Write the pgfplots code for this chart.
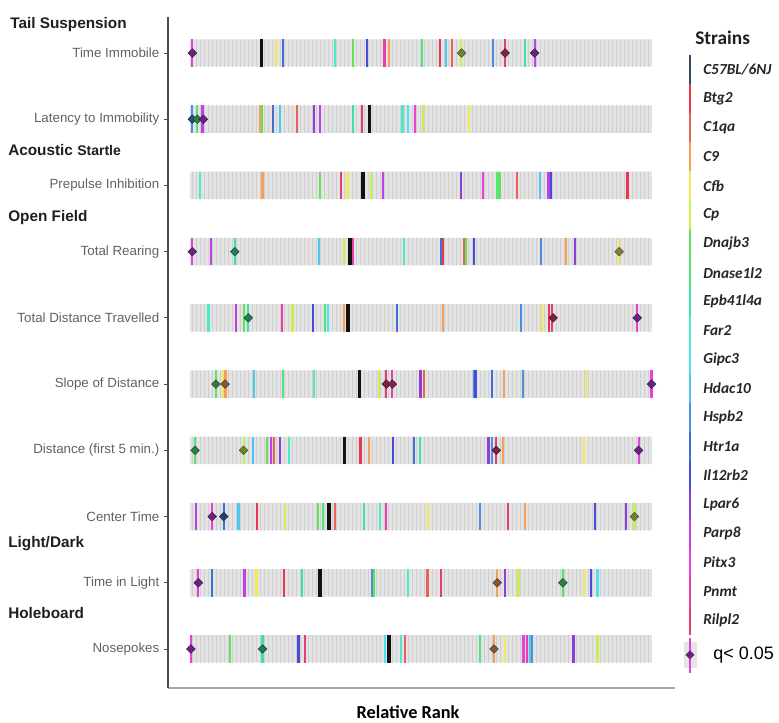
\documentclass[border=0pt]{standalone}
\usepackage{fontspec}
\setmainfont{Liberation Sans}
\newfontfamily\carlito{Carlito}
\usepackage{pgfplots}
\usepackage{pgfplotstable}
\pgfplotsset{compat=1.18}
\usetikzlibrary{patterns}

\definecolor{cC57}{HTML}{111111}
\definecolor{cC57leg}{HTML}{34495E}
\definecolor{cBtg2}{HTML}{E8384F}
\definecolor{cC1qa}{HTML}{E8645A}
\definecolor{cC9}{HTML}{F5A05A}
\definecolor{cCfb}{HTML}{F2E85A}
\definecolor{cCp}{HTML}{C8F050}
\definecolor{cDnajb3}{HTML}{66E05A}
\definecolor{cDnase1l2}{HTML}{4CE67A}
\definecolor{cEpb41l4a}{HTML}{40E0A0}
\definecolor{cFar2}{HTML}{50E8C8}
\definecolor{cGipc3}{HTML}{50E0F0}
\definecolor{cHdac10}{HTML}{4CC8F0}
\definecolor{cHspb2}{HTML}{4A90E2}
\definecolor{cHtr1a}{HTML}{3F6FD8}
\definecolor{cIl12rb2}{HTML}{4A4AD8}
\definecolor{cLpar6}{HTML}{8A40D8}
\definecolor{cParp8}{HTML}{C040E8}
\definecolor{cPitx3}{HTML}{E840D8}
\definecolor{cPnmt}{HTML}{E840A8}
\definecolor{cRilpl2}{HTML}{E04070}

% relative rank (0-100) of each strain in each test; y = row (10 = top)
\pgfplotstableread{
x y s
0.5 10 Pitx3
15.5 10 C57
18.6 10 Cfb
20.1 10 Htr1a
31.3 10 Far2
35.2 10 Dnajb3
38.4 10 Il12rb2
42.1 10 Pnmt
43.1 10 C9
50.3 10 Dnase1l2
54.2 10 Btg2
55.5 10 Hdac10
56.8 10 C1qa
58.7 10 Cp
65.6 10 Hspb2
68.2 10 Rilpl2
72.6 10 Epb41l4a
74.6 10 Parp8
0.5 9 Hspb2
1.6 9 Dnase1l2
2.7 9 Parp8
15.2 9 C9
15.6 9 Dnajb3
17.9 9 Htr1a
19.5 9 Hdac10
23.2 9 C1qa
26.9 9 Lpar6
28.1 9 Parp8
35.2 9 Epb41l4a
37.2 9 Rilpl2
38.8 9 C57
46.0 9 Far2
47.1 9 Gipc3
48.7 9 Pitx3
50.5 9 Cp
60.3 9 Cfb
2.2 8 Far2
15.7 8 C9
28.2 8 Dnajb3
32.6 8 Rilpl2
34.1 8 Cfb
37.4 8 C57
39.2 8 Cp
41.7 8 Parp8
58.7 8 Lpar6
63.5 8 Pitx3
66.5 8 Dnase1l2
67.0 8 Dnajb3
70.8 8 C1qa
75.7 8 Hdac10
77.6 8 Parp8
78.2 8 Il12rb2
94.7 8 Btg2
0.5 7 Pitx3
4.5 7 Parp8
9.7 7 Epb41l4a
28.0 7 Hdac10
33.4 7 Cp
34.6 7 C57
35.2 7 Pnmt
46.4 7 Far2
54.3 7 Htr1a
54.7 7 Btg2
59.3 7 C1qa
59.7 7 Dnajb3
61.4 7 Il12rb2
75.9 7 Hspb2
81.4 7 C9
83.3 7 Lpar6
92.9 7 Cfb
4.0 6 Far2
9.9 6 Parp8
11.6 6 Dnajb3
12.5 6 Epb41l4a
19.9 6 Pnmt
22.2 6 Cp
26.6 6 Il12rb2
29.2 6 Dnase1l2
29.8 6 Gipc3
33.4 6 C9
34.2 6 C57
44.8 6 Htr1a
54.8 6 C9
71.6 6 Hspb2
76.2 6 Cfb
77.8 6 Btg2
78.3 6 Rilpl2
96.8 6 Pitx3
5.6 5 Dnajb3
7.1 5 Cfb
7.7 5 C9
13.9 5 Hdac10
20.1 5 Dnase1l2
26.9 5 Far2
36.7 5 C57
40.9 5 Cp
42.5 5 Rilpl2
43.8 5 Pnmt
49.9 5 Lpar6
50.6 5 C1qa
61.4 5 Hspb2
61.8 5 Il12rb2
65.3 5 Htr1a
67.9 5 C9
72.1 5 Hspb2
85.7 5 Cfb
99.9 5 Pitx3
1.1 4 Dnase1l2
11.6 4 Cp
13.7 4 Hdac10
16.7 4 Dnajb3
17.5 4 Parp8
18.1 4 C1qa
19.5 4 Lpar6
21.4 4 Far2
33.4 4 C57
36.9 4 Btg2
38.7 4 C9
44.0 4 Il12rb2
48.4 4 Htr1a
49.7 4 Epb41l4a
64.6 4 Lpar6
65.3 4 Hspb2
66.3 4 Rilpl2
67.7 4 C9
85.3 4 Cfb
97.1 4 Pitx3
1.3 3 Parp8
4.8 3 Pitx3
7.3 3 Htr1a
10.5 3 Hdac10
14.5 3 Btg2
20.6 3 Cp
27.7 3 Dnajb3
28.7 3 Dnase1l2
30.1 3 C57
31.4 3 C1qa
37.7 3 Epb41l4a
41.2 3 Far2
42.5 3 Pnmt
51.5 3 Cfb
62.7 3 Hspb2
68.8 3 Rilpl2
72.6 3 C9
87.7 3 Il12rb2
94.4 3 Lpar6
96.2 3 Cp
1.8 2 Pitx3
4.7 2 Htr1a
11.8 2 Parp8
14.4 2 Cfb
20.4 2 Btg2
24.2 2 Epb41l4a
28.1 2 C57
39.4 2 Hspb2
39.9 2 Dnajb3
47.1 2 Far2
51.4 2 C1qa
54.4 2 Rilpl2
66.5 2 C9
68.2 2 Lpar6
71.1 2 Cp
80.7 2 Dnase1l2
85.2 2 Cfb
86.8 2 Il12rb2
88.2 2 Gipc3
0.2 1 Pitx3
8.7 1 Dnajb3
15.7 1 Epb41l4a
23.5 1 Il12rb2
24.8 1 Rilpl2
42.2 1 Gipc3
43.1 1 C57
45.6 1 Far2
46.6 1 C1qa
62.7 1 Dnase1l2
65.8 1 C9
68.1 1 Cfb
72.2 1 Pitx3
72.9 1 Pnmt
73.6 1 Hdac10
74.1 1 Hspb2
83.0 1 Lpar6
88.2 1 Cp
}\ranks

% significant results (q < 0.05)
\pgfplotstableread{
x y s
0.5 10 Pitx3
58.8 10 Cp
68.2 10 Rilpl2
74.6 10 Parp8
0.5 9 Hspb2
1.6 9 Dnase1l2
2.9 9 Parp8
0.5 7 Pitx3
9.7 7 Epb41l4a
92.9 7 Cfb
12.6 6 Epb41l4a
78.6 6 Rilpl2
96.8 6 Pitx3
5.6 5 Dnajb3
7.6 5 C9
42.5 5 Rilpl2
43.8 5 Pnmt
99.9 5 Pitx3
1.1 4 Dnase1l2
11.6 4 Cp
66.3 4 Rilpl2
97.1 4 Pitx3
4.8 3 Pitx3
7.3 3 Htr1a
96.2 3 Cp
1.8 2 Pitx3
66.5 2 C9
80.7 2 Dnase1l2
0.2 1 Pitx3
15.7 1 Epb41l4a
65.8 1 C9
}\sig

\tikzset{dia/.style={draw=#1!35!black, fill=#1!55!black}}
\pgfplotsset{
  lineclasses/.style={scatter/classes={
    C57={cC57, line width=2.6pt}, Btg2={cBtg2}, C1qa={cC1qa}, C9={cC9}, Cfb={cCfb}, Cp={cCp},
    Dnajb3={cDnajb3}, Dnase1l2={cDnase1l2}, Epb41l4a={cEpb41l4a}, Far2={cFar2},
    Gipc3={cGipc3}, Hdac10={cHdac10}, Hspb2={cHspb2}, Htr1a={cHtr1a}, Il12rb2={cIl12rb2},
    Lpar6={cLpar6}, Parp8={cParp8}, Pitx3={cPitx3}, Pnmt={cPnmt}, Rilpl2={cRilpl2}}},
  sigclasses/.style={scatter/classes={
    Btg2={dia=cBtg2}, C1qa={dia=cC1qa}, C9={dia=cC9}, Cfb={dia=cCfb}, Cp={dia=cCp},
    Dnajb3={dia=cDnajb3}, Dnase1l2={dia=cDnase1l2}, Epb41l4a={dia=cEpb41l4a}, Far2={dia=cFar2},
    Gipc3={dia=cGipc3}, Hdac10={dia=cHdac10}, Hspb2={dia=cHspb2}, Htr1a={dia=cHtr1a}, Il12rb2={dia=cIl12rb2},
    Lpar6={dia=cLpar6}, Parp8={dia=cParp8}, Pitx3={dia=cParp8}, Pnmt={dia=cPnmt}, Rilpl2={dia=cRilpl2}}},
}

\begin{document}
\begin{tikzpicture}[x=0.75pt,y=0.75pt]
\useasboundingbox (0,0) rectangle (779,723);
\begin{axis}[
  at={(126pt,26.25pt)}, anchor=south west,
  scale only axis, width=380.25pt, height=503.25pt,
  xmin=-4.76, xmax=104.98, ymin=0.411, ymax=10.544,
  axis x line*=bottom, axis y line*=left,
  axis line style={-},
  x axis line style={black!35, line width=0.8pt},
  y axis line style={black!70, line width=1pt},
  xtick=\empty,
  ytick={1,...,10},
  yticklabels={Nosepokes,Time in Light,Center Time,Distance (first 5 min.),Slope of Distance,Total Distance Travelled,Total Rearing,Prepulse Inhibition,Latency to Immobility,Time Immobile},
  tick align=outside, major tick length=3pt,
  ytick style={black!70, line width=0.6pt},
  yticklabel style={font=\fontsize{10}{12}\selectfont, text=black!62},
]
\addplot[xbar, bar width=0.415, fill=black!11, draw=none,
  postaction={pattern=vertical lines, pattern color=black!19}]
  coordinates {(100,1)(100,2)(100,3)(100,4)(100,5)(100,6)(100,7)(100,8)(100,9)(100,10)};
\addplot[scatter, only marks, mark=|, mark size=10.3pt, mark options={line width=1.6pt},
  scatter src=explicit symbolic, lineclasses]
  table[x=x, y=y, meta=s]{\ranks};
\addplot[scatter, only marks, mark=square*, mark size=2.3pt, mark options={rotate=45, line width=0.4pt},
  scatter src=explicit symbolic, sigclasses]
  table[x=x, y=y, meta=s]{\sig};
\end{axis}

% test group headers
\begin{scope}[every node/.style={anchor=west, inner sep=0pt, text=black!88, font=\fontsize{11.5}{13}\selectfont\bfseries}]
\node at (10,698) {Tail Suspension};
\node at (8,573) {Acoustic {\fontsize{10.5}{12}\selectfont Startle}};
\node at (8,505) {Open Field};
\node at (8,179) {Light/Dark};
\node at (8,110) {Holeboard};
\end{scope}

% legend
\node[anchor=west, inner sep=0pt, font=\carlito\fontsize{14.5}{16}\selectfont\bfseries, text=black!88] at (695,685) {Strains};
\foreach \c/\n [count=\i from 0] in {cC57leg/{C57BL/6NJ}, cBtg2/Btg2, cC1qa/C1qa, cC9/C9, cCfb/Cfb, cCp/Cp, cDnajb3/Dnajb3, cDnase1l2/Dnase1l2, cEpb41l4a/Epb41l4a, cFar2/Far2, cGipc3/Gipc3, cHdac10/Hdac10, cHspb2/Hspb2, cHtr1a/Htr1a, cIl12rb2/Il12rb2, cLpar6/Lpar6, cParp8/Parp8, cPitx3/Pitx3, cPnmt/Pnmt, cRilpl2/Rilpl2}{
  \pgfmathsetmacro\yy{723-70-28.97*\i}
  \draw[\c, line width=1.5pt] (690,\yy+14.5) -- (690,\yy-14.5);
  \node[anchor=west, inner sep=0pt, font=\carlito\fontsize{11.5}{13}\selectfont\bfseries\itshape, text=black!85] at (703,\yy) {\n};
}
\fill[black!10] (684,55) rectangle (697,81);
\draw[cPitx3, line width=1.5pt] (690,50) -- (690,85);
\fill[cParp8!55!black] (690,72.5) -- (694.5,68) -- (690,63.5) -- (685.5,68) -- cycle;
\node[anchor=west, inner sep=0pt, font=\fontsize{13.5}{15}\selectfont] at (713,68) {q< 0.05};

\node[anchor=base, inner sep=0pt, font=\carlito\fontsize{13.7}{15}\selectfont\bfseries] at (408,4) {Relative Rank};
\end{tikzpicture}
\end{document}
